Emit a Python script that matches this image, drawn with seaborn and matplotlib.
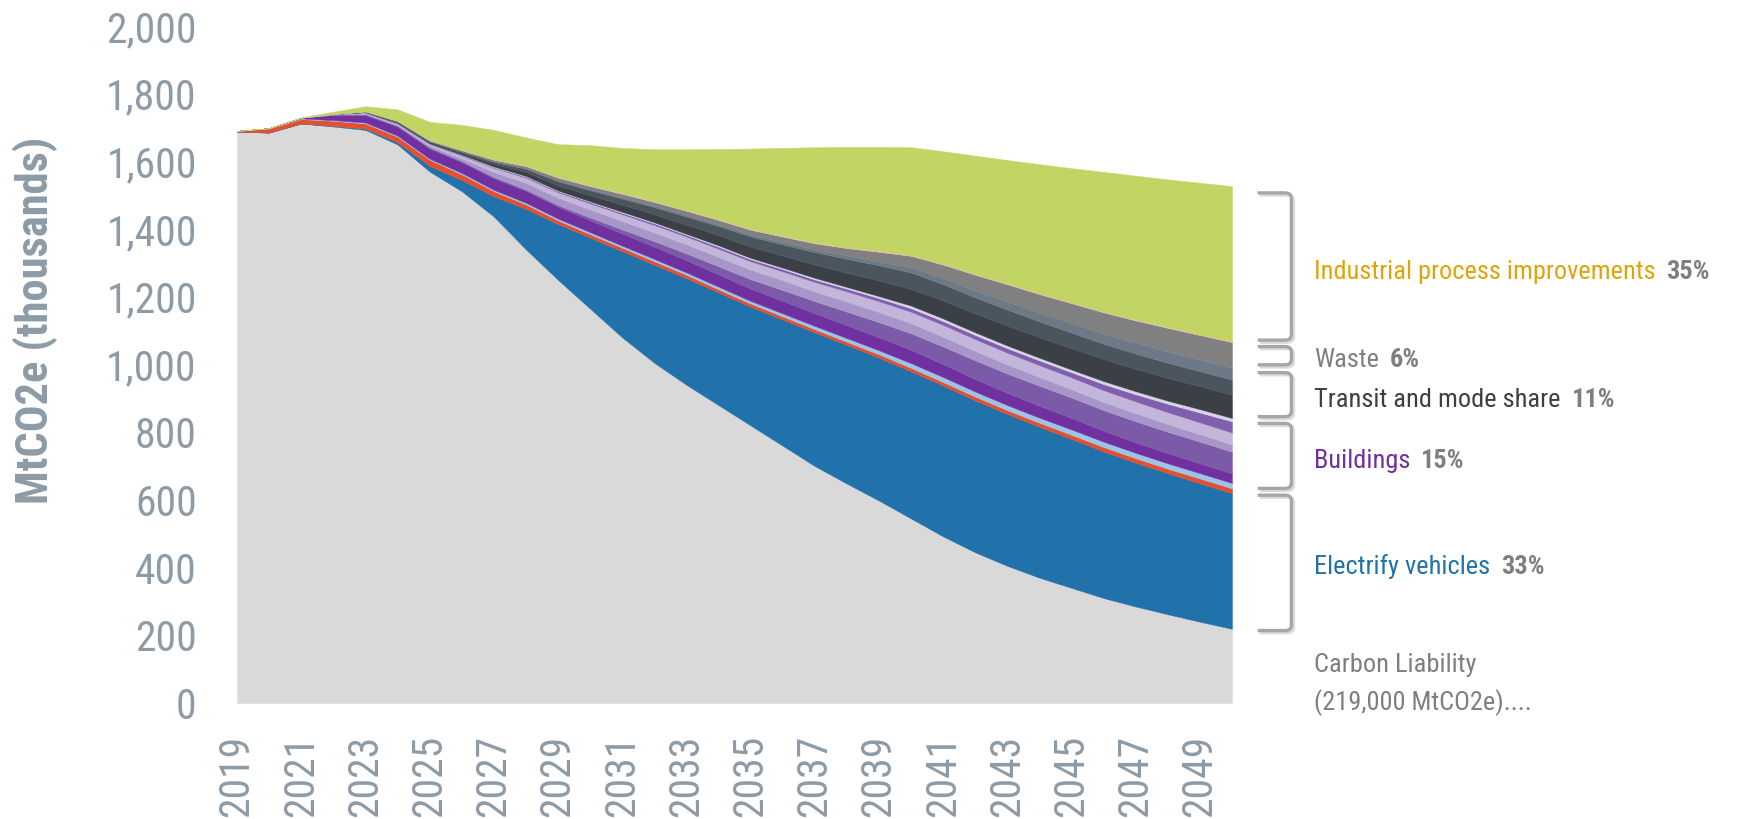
import matplotlib
matplotlib.use("Agg")
import numpy as np
import pandas as pd
import matplotlib.pyplot as plt
import matplotlib.transforms as mtransforms
import seaborn as sns
from matplotlib.path import Path
from matplotlib.patches import PathPatch

# ---------- data (MtCO2e, thousands) ----------
years = list(range(2019, 2051))

liability = [1688, 1685, 1712, 1703, 1693, 1650, 1570, 1512, 1437, 1340, 1250, 1165, 1080, 1005, 940, 880,
             820, 760, 700, 648, 598, 545, 492, 445, 405, 370, 340, 310, 285, 262, 240, 219]
ev_main = [0, 0, 0, 2, 4, 7, 17, 33, 60, 120, 165, 210, 255, 290, 315, 333,
           351, 373, 395, 410, 422, 435, 446, 449, 449, 446, 440, 433, 425, 417, 409, 401]
ev_other = [2, 12, 13, 15, 15, 16, 18, 17, 15, 13, 11, 10, 10, 10, 10, 9,
            9, 9, 9, 9, 10, 10, 10, 11, 11, 12, 12, 13, 13, 13, 14, 14]
bld_1 = [0, 1, 2, 2, 3, 3, 3, 4, 4, 5, 5, 6, 6, 7, 7, 8,
         8, 9, 10, 11, 12, 14, 15, 15, 15, 15, 16, 16, 16, 16, 16, 16]
bld_2 = [0, 0, 2, 15, 22, 27, 30, 32, 34, 35, 35, 35, 36, 36, 36, 36,
         36, 37, 37, 38, 38, 39, 38, 37, 36, 35, 34, 32, 31, 30, 29, 28]
bld_3 = [0, 0, 0, 1, 2, 2, 3, 3, 4, 4, 5, 8, 12, 16, 20, 24,
         28, 32, 36, 40, 45, 49, 52, 55, 57, 59, 60, 61, 62, 63, 64, 64]
bld_4 = [0, 0, 0, 1, 2, 3, 5, 8, 15, 20, 22, 24, 25, 26, 27, 28,
         28, 29, 29, 30, 30, 30, 29, 28, 27, 26, 25, 24, 24, 23, 22, 22]
bld_5 = [0, 0, 0, 1, 2, 3, 5, 8, 12, 15, 16, 18, 20, 22, 23, 24,
         25, 26, 28, 30, 32, 34, 35, 35, 35, 35, 35, 35, 35, 35, 35, 35]
bld_6 = [0, 0, 0, 0, 1, 1, 1, 2, 2, 3, 3, 4, 4, 5, 5, 6,
         6, 7, 7, 8, 9, 10, 11, 12, 13, 14, 15, 18, 21, 25, 29, 33]
transit_1 = [0, 0, 0, 0, 1, 1, 1, 1, 2, 2, 2, 2, 3, 3, 3, 4,
             4, 4, 5, 5, 6, 8, 8, 8, 8, 8, 8, 9, 9, 9, 10, 10]
transit_2 = [0, 0, 0, 0, 1, 2, 3, 5, 8, 12, 15, 18, 21, 24, 27, 30,
             33, 36, 39, 42, 46, 49, 53, 56, 59, 61, 63, 65, 66, 67, 68, 69]
transit_3 = [0, 0, 0, 0, 1, 2, 3, 4, 6, 9, 12, 15, 18, 21, 24, 27,
             30, 33, 37, 41, 45, 49, 48, 47, 47, 46, 46, 45, 45, 45, 44, 44]
waste_1 = [0, 0, 0, 0, 0, 1, 1, 1, 2, 2, 3, 3, 4, 4, 5, 5,
           6, 7, 8, 10, 12, 15, 18, 21, 24, 26, 28, 30, 32, 34, 35, 36]
waste_2 = [0, 0, 0, 0, 1, 2, 2, 3, 4, 6, 8, 9, 10, 11, 12, 13,
           14, 16, 18, 22, 28, 34, 40, 46, 51, 55, 59, 63, 66, 69, 72, 75]
waste_3 = [0, 0, 0, 0, 0, 0, 1, 1, 1, 1, 2, 2, 2, 2, 2, 2,
           2, 2, 2, 2, 2, 2, 2, 2, 2, 2, 2, 2, 2, 2, 2, 2]
industrial = [0, 0, 1, 7, 15, 34, 54, 74, 87, 84, 97, 119, 134, 154, 180, 208,
              238, 260, 282, 297, 308, 319, 333, 350, 365, 382, 397, 413, 426, 437, 448, 459]

year_ticks = list(range(2019, 2050, 2))
value_ticks = list(range(0, 2001, 200))

labels = ["Industrial process improvements", "Waste", "Transit and mode share",
          "Buildings", "Electrify vehicles"]
shares = ["35%", "6%", "11%", "15%", "33%"]
liability_note = ["Carbon Liability", "(219,000 MtCO2e)...."]

layers = [liability, ev_main, ev_other, bld_1, bld_2, bld_3, bld_4, bld_5, bld_6,
          transit_1, transit_2, transit_3, waste_1, waste_2, waste_3, industrial]
colors = ["#D9D9D9", "#2171AA", "#E4502F", "#9DC3E6", "#7030A0", "#7B5AA8", "#A896C8",
          "#C4B5DA", "#7F5FAE", "#DAD3E8", "#3A4046", "#4B555E", "#6B7A86", "#808080",
          "#F2B8C6", "#C1D464"]
label_colors = ["#DDA50A", "#7F7F7F", "#3A4046", "#7030A0", "#2171AA"]

# ---------- style ----------
sns.set_theme(style="white")
plt.rcParams["font.family"] = ["Roboto Condensed", "DejaVu Sans"]

fig = plt.figure(figsize=(17.5, 8.19), dpi=100)
ax = fig.add_axes([237 / 1750, 1 - 703 / 819, (1232 - 237) / 1750, (703 - 26) / 819])

# ---------- stacked areas ----------
df = pd.DataFrame(np.array(layers).T, index=years)
cum = df.cumsum(axis=1)
base = np.zeros(len(years))
for i, col in enumerate(df.columns):
    top = cum[col].values
    ax.fill_between(years, base, top, color=colors[i], edgecolor=colors[i], linewidth=0.3)
    base = top

ax.set_xlim(2019, 2050)
ax.set_ylim(0, 2000)
ax.set_xticks(year_ticks)
ax.set_xticklabels([str(y) for y in year_ticks], rotation=90)
ax.set_yticks(value_ticks)
ax.set_yticklabels([f"{v:,}" for v in value_ticks])
ax.tick_params(axis="x", length=0, pad=23, labelsize=30, labelcolor="#8D9BA6")
ax.tick_params(axis="y", length=0, pad=29, labelsize=30, labelcolor="#8D9BA6")
sns.despine(ax=ax, left=True, bottom=True)
ax.grid(False)

fig.text(0.02, 0.609, "MtCO2e (thousands)", rotation=90, ha="center", va="center",
         fontsize=32, fontweight="bold", color="#8C9BA5")

# ---------- brackets ----------
brackets = [(1507, 1072), (1053, 999), (976, 846), (826, 634), (614, 214)]
label_y = [1273, 1013, 895, 715, 402]
x0, x1 = 2050.8, 2051.85
rx, ry = 0.2, 16
shadow = mtransforms.offset_copy(ax.transData, fig=fig, x=1.5, y=-1.5, units="points")
for (yt, yb) in brackets:
    verts = [(x0, yt), (x1 - rx, yt), (x1, yt), (x1, yt - ry), (x1, yb + ry),
             (x1, yb), (x1 - rx, yb), (x0, yb)]
    codes = [Path.MOVETO, Path.LINETO, Path.CURVE3, Path.CURVE3, Path.LINETO,
             Path.CURVE3, Path.CURVE3, Path.LINETO]
    ax.add_patch(PathPatch(Path(verts, codes), facecolor="none", edgecolor="#DADADA",
                           linewidth=2.4, clip_on=False, transform=shadow))
    ax.add_patch(PathPatch(Path(verts, codes), facecolor="none", edgecolor="#A6A6A6",
                           linewidth=2.4, clip_on=False))

# ---------- labels ----------
tx = 2052.55
for lab, sh, yy, c in zip(labels, shares, label_y, label_colors):
    t = ax.text(tx, yy, lab, color=c, fontsize=19, va="center", ha="left", clip_on=False)
    ax.annotate(sh, xy=(1, 0.5), xycoords=t, xytext=(8, 0), textcoords="offset points",
                va="center", ha="left", fontsize=19, fontweight="bold", color="#7F7F7F",
                annotation_clip=False)

ax.text(tx, 112, liability_note[0], color="#7F7F7F", fontsize=19, va="center", ha="left",
        clip_on=False)
ax.text(tx, 0, liability_note[1], color="#7F7F7F", fontsize=19, va="center", ha="left",
        clip_on=False)

fig.savefig("out.png", dpi=100)
